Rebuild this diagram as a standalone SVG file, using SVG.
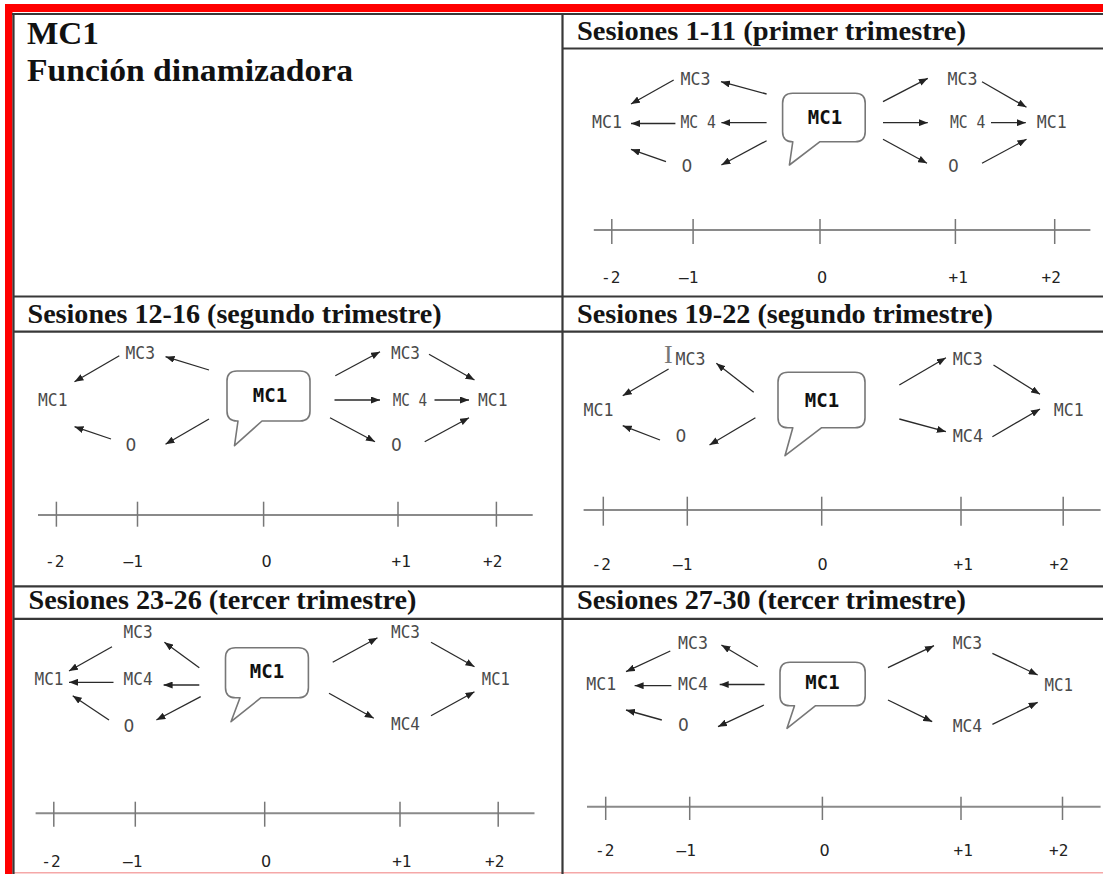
<svg xmlns="http://www.w3.org/2000/svg" width="1103" height="874" viewBox="0 0 1103 874">
<style>
.grid{stroke:#383838;stroke-width:2.2;fill:none}
.hdr{font-family:"Liberation Serif","Times New Roman",serif;font-weight:bold;font-size:27px;fill:#141414}
.ttl{font-family:"Liberation Serif","Times New Roman",serif;font-weight:bold;font-size:31px;fill:#111}
.lbl{font-family:"DejaVu Sans Mono","Liberation Mono",monospace;font-size:17px;fill:#4a4a4a}
.zero{font-family:"DejaVu Sans","Liberation Sans",sans-serif;font-size:17px;fill:#4a4a4a}
.big{font-family:"DejaVu Sans Mono","Liberation Mono",monospace;font-size:19px;font-weight:bold;fill:#111;text-anchor:middle}
.num{font-family:"DejaVu Sans Mono","Liberation Mono",monospace;font-size:16px;fill:#222}
.numz{font-family:"DejaVu Sans","Liberation Sans",sans-serif;font-size:16px;fill:#222}
.cur{font-family:"Liberation Serif",serif;font-size:26px;fill:#777}
.arr line{stroke:#2a2a2a;stroke-width:1.3;marker-end:url(#ah)}
.bub{fill:#fff;stroke:#777;stroke-width:1.6;stroke-linejoin:round}
.axis{stroke:#8a8a8a;stroke-width:2}
.tick{stroke:#777;stroke-width:1.5}
</style>
<defs>
<marker id="ah" markerWidth="9" markerHeight="7" refX="9" refY="3.5" orient="auto" markerUnits="userSpaceOnUse">
<path d="M0,0 L9,3.5 L0,7 Z" fill="#222"/>
</marker>
</defs>
<rect width="1103" height="874" fill="#fff"/>
<g id="frame">
<rect x="5" y="4" width="1098" height="8" fill="#f00"/>
<rect x="5" y="4" width="7.5" height="870" fill="#f00"/>
<line x1="13" y1="872.8" x2="1103" y2="872.8" stroke="#f5a8a8" stroke-width="1.5"/>
<line class="grid" x1="12" y1="14" x2="1103" y2="14"/>
<line class="grid" x1="13.5" y1="14" x2="13.5" y2="874"/>
<line class="grid" x1="562.5" y1="14" x2="562.5" y2="874"/>
<line class="grid" x1="562.5" y1="48.5" x2="1103" y2="48.5"/>
<line class="grid" x1="13" y1="296.5" x2="1103" y2="296.5"/>
<line class="grid" x1="13" y1="331.7" x2="1103" y2="331.7"/>
<line class="grid" x1="13" y1="586.3" x2="1103" y2="586.3"/>
<line class="grid" x1="13" y1="618.8" x2="1103" y2="618.8"/>
</g>
<g id="titles">
<text class="ttl" x="27" y="44" textLength="72" lengthAdjust="spacingAndGlyphs">MC1</text>
<text class="ttl" x="27" y="81" textLength="326" lengthAdjust="spacingAndGlyphs">Función dinamizadora</text>
<text class="hdr" x="577" y="39.5" textLength="389" lengthAdjust="spacingAndGlyphs">Sesiones 1-11 (primer trimestre)</text>
<text class="hdr" x="27.5" y="322.7" textLength="414" lengthAdjust="spacingAndGlyphs">Sesiones 12-16 (segundo trimestre)</text>
<text class="hdr" x="577" y="322.5" textLength="416" lengthAdjust="spacingAndGlyphs">Sesiones 19-22 (segundo trimestre)</text>
<text class="hdr" x="28.5" y="609" textLength="388" lengthAdjust="spacingAndGlyphs">Sesiones 23-26 (tercer trimestre)</text>
<text class="hdr" x="577" y="609" textLength="389" lengthAdjust="spacingAndGlyphs">Sesiones 27-30 (tercer trimestre)</text>
</g>
<g id="axes">
<line class="axis" x1="593.8" y1="230" x2="1090.4" y2="230"/>
<line class="tick" x1="611.8" y1="219" x2="611.8" y2="244"/><line class="tick" x1="693.1" y1="219" x2="693.1" y2="244"/><line class="tick" x1="820" y1="219" x2="820" y2="244"/><line class="tick" x1="955.4" y1="219" x2="955.4" y2="244"/><line class="tick" x1="1054.7" y1="219" x2="1054.7" y2="244"/>
<line class="axis" x1="38" y1="515" x2="532.7" y2="515"/>
<line class="tick" x1="56.4" y1="501.7" x2="56.4" y2="526.7"/><line class="tick" x1="137.5" y1="501.7" x2="137.5" y2="526.7"/><line class="tick" x1="263.6" y1="501.7" x2="263.6" y2="526.7"/><line class="tick" x1="398" y1="501.7" x2="398" y2="526.7"/><line class="tick" x1="496.4" y1="501.7" x2="496.4" y2="526.7"/>
<line class="axis" x1="583.6" y1="510" x2="1100.6" y2="510" stroke-width="3"/>
<line class="tick" x1="603.3" y1="496.7" x2="603.3" y2="525.7" stroke-width="2"/><line class="tick" x1="687.3" y1="496.7" x2="687.3" y2="525.7" stroke-width="2"/><line class="tick" x1="821.7" y1="496.7" x2="821.7" y2="525.7" stroke-width="2"/><line class="tick" x1="961" y1="496.7" x2="961" y2="525.7" stroke-width="2"/><line class="tick" x1="1063.2" y1="496.7" x2="1063.2" y2="525.7" stroke-width="2"/>
<line class="axis" x1="35.6" y1="813.3" x2="534.5" y2="813.3"/>
<line class="tick" x1="53.8" y1="801.7" x2="53.8" y2="826.7"/><line class="tick" x1="135.3" y1="801.7" x2="135.3" y2="826.7"/><line class="tick" x1="264.7" y1="801.7" x2="264.7" y2="826.7"/><line class="tick" x1="400" y1="801.7" x2="400" y2="826.7"/><line class="tick" x1="498.2" y1="801.7" x2="498.2" y2="826.7"/>
<line class="axis" x1="587" y1="806.7" x2="1100.6" y2="806.7" stroke="#555" stroke-width="1.4"/>
<line class="tick" x1="605.7" y1="796.7" x2="605.7" y2="820"/><line class="tick" x1="689.7" y1="796.7" x2="689.7" y2="820"/><line class="tick" x1="822.4" y1="796.7" x2="822.4" y2="820"/><line class="tick" x1="961" y1="796.7" x2="961" y2="820"/><line class="tick" x1="1062.5" y1="796.7" x2="1062.5" y2="820"/>
</g>
<g id="axis-labels">
<text class="num" x="601" y="283">-2</text><text class="num" x="679" y="283">–1</text><text class="numz" x="817" y="283">0</text><text class="num" x="948.5" y="283">+1</text><text class="num" x="1041.5" y="283">+2</text>
<text class="num" x="45" y="567">-2</text><text class="num" x="123.5" y="567">–1</text><text class="numz" x="261.5" y="567">0</text><text class="num" x="391.5" y="567">+1</text><text class="num" x="483" y="567">+2</text>
<text class="num" x="591.5" y="569.5">-2</text><text class="num" x="673" y="569.5">–1</text><text class="numz" x="817.5" y="569.5">0</text><text class="num" x="953.5" y="569.5">+1</text><text class="num" x="1049.5" y="569.5">+2</text>
<text class="num" x="41.3" y="867">-2</text><text class="num" x="123" y="867">–1</text><text class="numz" x="261" y="867">0</text><text class="num" x="392.2" y="867">+1</text><text class="num" x="485" y="867">+2</text>
<text class="num" x="595" y="856">-2</text><text class="num" x="676.5" y="856">–1</text><text class="numz" x="819.5" y="856">0</text><text class="num" x="953.5" y="856">+1</text><text class="num" x="1049" y="856">+2</text>
</g>
<g id="p1">
<g id="p1-bubble"><path class="bub" d="M792.6,93.3 H855.2 Q865.2,93.3 865.2,103.3 V131.7 Q865.2,141.7 855.2,141.7 H820 L789.4,165 L792.8,141.7 H792.6 Q782.6,141.7 782.6,131.7 V103.3 Q782.6,93.3 792.6,93.3 Z"/><text class="big" x="825" y="123.5">MC1</text></g>
<g id="p1-mc3l"><text class="lbl" x="680.5" y="85" textLength="30" lengthAdjust="spacingAndGlyphs">MC3</text></g>
<g id="p1-mc4l"><text class="lbl" x="680.5" y="128" textLength="35.5" lengthAdjust="spacingAndGlyphs">MC 4</text></g>
<g id="p1-mc1l"><text class="lbl" x="592" y="128" textLength="30" lengthAdjust="spacingAndGlyphs">MC1</text></g>
<g id="p1-0l"><text class="zero" x="681.6" y="172">0</text></g>
<g id="p1-mc3r"><text class="lbl" x="947.6" y="85" textLength="30" lengthAdjust="spacingAndGlyphs">MC3</text></g>
<g id="p1-mc4r"><text class="lbl" x="950" y="128" textLength="35.5" lengthAdjust="spacingAndGlyphs">MC 4</text></g>
<g id="p1-mc1r"><text class="lbl" x="1036.7" y="128" textLength="30" lengthAdjust="spacingAndGlyphs">MC1</text></g>
<g id="p1-0r"><text class="zero" x="948" y="172">0</text></g>
</g>
<g id="p2">
<g id="p2-bubble"><path class="bub" d="M237,371 H300 Q310,371 310,381 V411 Q310,421 300,421 H262 L234.5,445.7 L238,421 H237 Q227,421 227,411 V381 Q227,371 237,371 Z"/><text class="big" x="270" y="401.5">MC1</text></g>
<g id="p2-mc3l"><text class="lbl" x="125.5" y="359" textLength="29.5" lengthAdjust="spacingAndGlyphs">MC3</text></g>
<g id="p2-mc1l"><text class="lbl" x="38" y="405.7" textLength="29.5" lengthAdjust="spacingAndGlyphs">MC1</text></g>
<g id="p2-0l"><text class="zero" x="125.5" y="451">0</text></g>
<g id="p2-mc3r"><text class="lbl" x="391" y="359" textLength="29" lengthAdjust="spacingAndGlyphs">MC3</text></g>
<g id="p2-mc4r"><text class="lbl" x="392.7" y="405.7" textLength="34.5" lengthAdjust="spacingAndGlyphs">MC 4</text></g>
<g id="p2-mc1r"><text class="lbl" x="478" y="405.7" textLength="29.5" lengthAdjust="spacingAndGlyphs">MC1</text></g>
<g id="p2-0r"><text class="zero" x="391" y="451">0</text></g>
</g>
<g id="p3">
<g id="p3-bubble"><path class="bub" d="M788,372.3 H855 Q865,372.3 865,382.3 V417.7 Q865,427.7 855,427.7 H821.7 L785,455.7 L792.8,427.7 H788 Q778,427.7 778,417.7 V382.3 Q778,372.3 788,372.3 Z"/><text class="big" x="822" y="407">MC1</text></g>
<g id="p3-cursor"><text class="cur" x="664" y="363">I</text></g>
<g id="p3-mc3l"><text class="lbl" x="675.4" y="365" textLength="30" lengthAdjust="spacingAndGlyphs">MC3</text></g>
<g id="p3-mc1l"><text class="lbl" x="583.6" y="415.7" textLength="30" lengthAdjust="spacingAndGlyphs">MC1</text></g>
<g id="p3-0l"><text class="zero" x="675.4" y="441.7">0</text></g>
<g id="p3-mc3r"><text class="lbl" x="952.7" y="365" textLength="30" lengthAdjust="spacingAndGlyphs">MC3</text></g>
<g id="p3-mc1r"><text class="lbl" x="1053.7" y="415.7" textLength="30" lengthAdjust="spacingAndGlyphs">MC1</text></g>
<g id="p3-mc4r"><text class="lbl" x="952.7" y="441.7" textLength="30.5" lengthAdjust="spacingAndGlyphs">MC4</text></g>
</g>
<g id="p4">
<g id="p4-bubble"><path class="bub" d="M235.5,647.7 H298.4 Q308.4,647.7 308.4,657.7 V687.7 Q308.4,697.7 298.4,697.7 H261 L231,721.7 L240,697.7 H235.5 Q225.5,697.7 225.5,687.7 V657.7 Q225.5,647.7 235.5,647.7 Z"/><text class="big" x="267" y="678">MC1</text></g>
<g id="p4-mc3l"><text class="lbl" x="123.6" y="638.3" textLength="29" lengthAdjust="spacingAndGlyphs">MC3</text></g>
<g id="p4-mc1l"><text class="lbl" x="34.5" y="685" textLength="29" lengthAdjust="spacingAndGlyphs">MC1</text></g>
<g id="p4-mc4l"><text class="lbl" x="123.6" y="685" textLength="29" lengthAdjust="spacingAndGlyphs">MC4</text></g>
<g id="p4-0l"><text class="zero" x="123.6" y="731.7">0</text></g>
<g id="p4-mc3r"><text class="lbl" x="391" y="638.3" textLength="29" lengthAdjust="spacingAndGlyphs">MC3</text></g>
<g id="p4-mc1r"><text class="lbl" x="481.8" y="685" textLength="28" lengthAdjust="spacingAndGlyphs">MC1</text></g>
<g id="p4-mc4r"><text class="lbl" x="391" y="730" textLength="29" lengthAdjust="spacingAndGlyphs">MC4</text></g>
</g>
<g id="p5">
<g id="p5-bubble"><path class="bub" d="M790,662.3 H855.2 Q865.2,662.3 865.2,672.3 V695.7 Q865.2,705.7 855.2,705.7 H815.6 L787,728.3 L794.5,705.7 H790 Q780,705.7 780,695.7 V672.3 Q780,662.3 790,662.3 Z"/><text class="big" x="822.5" y="688.5">MC1</text></g>
<g id="p5-mc3l"><text class="lbl" x="678" y="649" textLength="30" lengthAdjust="spacingAndGlyphs">MC3</text></g>
<g id="p5-mc1l"><text class="lbl" x="586.3" y="690" textLength="30" lengthAdjust="spacingAndGlyphs">MC1</text></g>
<g id="p5-mc4l"><text class="lbl" x="678" y="690" textLength="30" lengthAdjust="spacingAndGlyphs">MC4</text></g>
<g id="p5-0l"><text class="zero" x="678" y="731">0</text></g>
<g id="p5-mc3r"><text class="lbl" x="952.7" y="649" textLength="29.5" lengthAdjust="spacingAndGlyphs">MC3</text></g>
<g id="p5-mc1r"><text class="lbl" x="1044.5" y="691" textLength="28.5" lengthAdjust="spacingAndGlyphs">MC1</text></g>
<g id="p5-mc4r"><text class="lbl" x="952.7" y="731.7" textLength="29.5" lengthAdjust="spacingAndGlyphs">MC4</text></g>
</g>
<g id="connectors" class="arr">
<line x1="673.7" y1="80" x2="631" y2="104"/>
<line x1="766.6" y1="94" x2="721" y2="81.7"/>
<line x1="675.4" y1="123.5" x2="631" y2="123.5"/>
<line x1="766.6" y1="122.7" x2="721.4" y2="122.7"/>
<line x1="666" y1="161.7" x2="631" y2="149.3"/>
<line x1="766.6" y1="140.7" x2="721.4" y2="165"/>
<line x1="883" y1="101.7" x2="927.8" y2="78.3"/>
<line x1="982" y1="81.7" x2="1026.5" y2="107.3"/>
<line x1="883" y1="122.7" x2="927.8" y2="122.7"/>
<line x1="991" y1="122.7" x2="1025.8" y2="122.7"/>
<line x1="883" y1="139.3" x2="927" y2="163.3"/>
<line x1="982" y1="163.3" x2="1026.5" y2="139.3"/>
<line x1="119.3" y1="355.7" x2="74.5" y2="381.7"/>
<line x1="209" y1="370" x2="165.5" y2="356.7"/>
<line x1="111" y1="439" x2="74.5" y2="426.7"/>
<line x1="209" y1="419" x2="165.5" y2="444.3"/>
<line x1="335.3" y1="375.7" x2="380" y2="351.7"/>
<line x1="429" y1="354.3" x2="474.5" y2="380"/>
<line x1="334.5" y1="400" x2="380" y2="400"/>
<line x1="434.5" y1="400" x2="469" y2="400"/>
<line x1="330" y1="417.7" x2="375" y2="441.7"/>
<line x1="424.7" y1="441.7" x2="469" y2="417.7"/>
<line x1="668.6" y1="369" x2="622.7" y2="395.7"/>
<line x1="753.7" y1="392.3" x2="716.3" y2="363.3"/>
<line x1="660" y1="440" x2="622.7" y2="425.7"/>
<line x1="755.4" y1="417.7" x2="709.5" y2="445"/>
<line x1="899.3" y1="385" x2="945.9" y2="357.7"/>
<line x1="993.5" y1="365" x2="1040" y2="394.3"/>
<line x1="899.3" y1="419" x2="945.9" y2="431.7"/>
<line x1="992.4" y1="436.7" x2="1040" y2="409"/>
<line x1="112" y1="646.7" x2="69" y2="671"/>
<line x1="199.3" y1="667.7" x2="164.4" y2="642.3"/>
<line x1="113.5" y1="682.3" x2="69" y2="682.3"/>
<line x1="199.3" y1="685" x2="163.6" y2="685"/>
<line x1="109" y1="720" x2="72.7" y2="695.7"/>
<line x1="200.7" y1="696.7" x2="156.4" y2="720"/>
<line x1="332.7" y1="662.3" x2="377.5" y2="637.7"/>
<line x1="431" y1="642.3" x2="474.5" y2="666.7"/>
<line x1="329" y1="693.3" x2="373.8" y2="718.3"/>
<line x1="431" y1="715.7" x2="474.5" y2="691.7"/>
<line x1="670.3" y1="651" x2="626" y2="671.7"/>
<line x1="757.8" y1="666.7" x2="721.4" y2="645"/>
<line x1="671.4" y1="685.7" x2="634.6" y2="685.7"/>
<line x1="764.6" y1="684.5" x2="719.7" y2="684.5"/>
<line x1="661.8" y1="720" x2="626" y2="710"/>
<line x1="763.9" y1="705" x2="718" y2="726.7"/>
<line x1="888" y1="667.7" x2="934" y2="645.7"/>
<line x1="992.4" y1="653.3" x2="1037.7" y2="675"/>
<line x1="888" y1="700" x2="932.2" y2="721.7"/>
<line x1="992.4" y1="724.3" x2="1037.7" y2="702.3"/>
</g>
</svg>
